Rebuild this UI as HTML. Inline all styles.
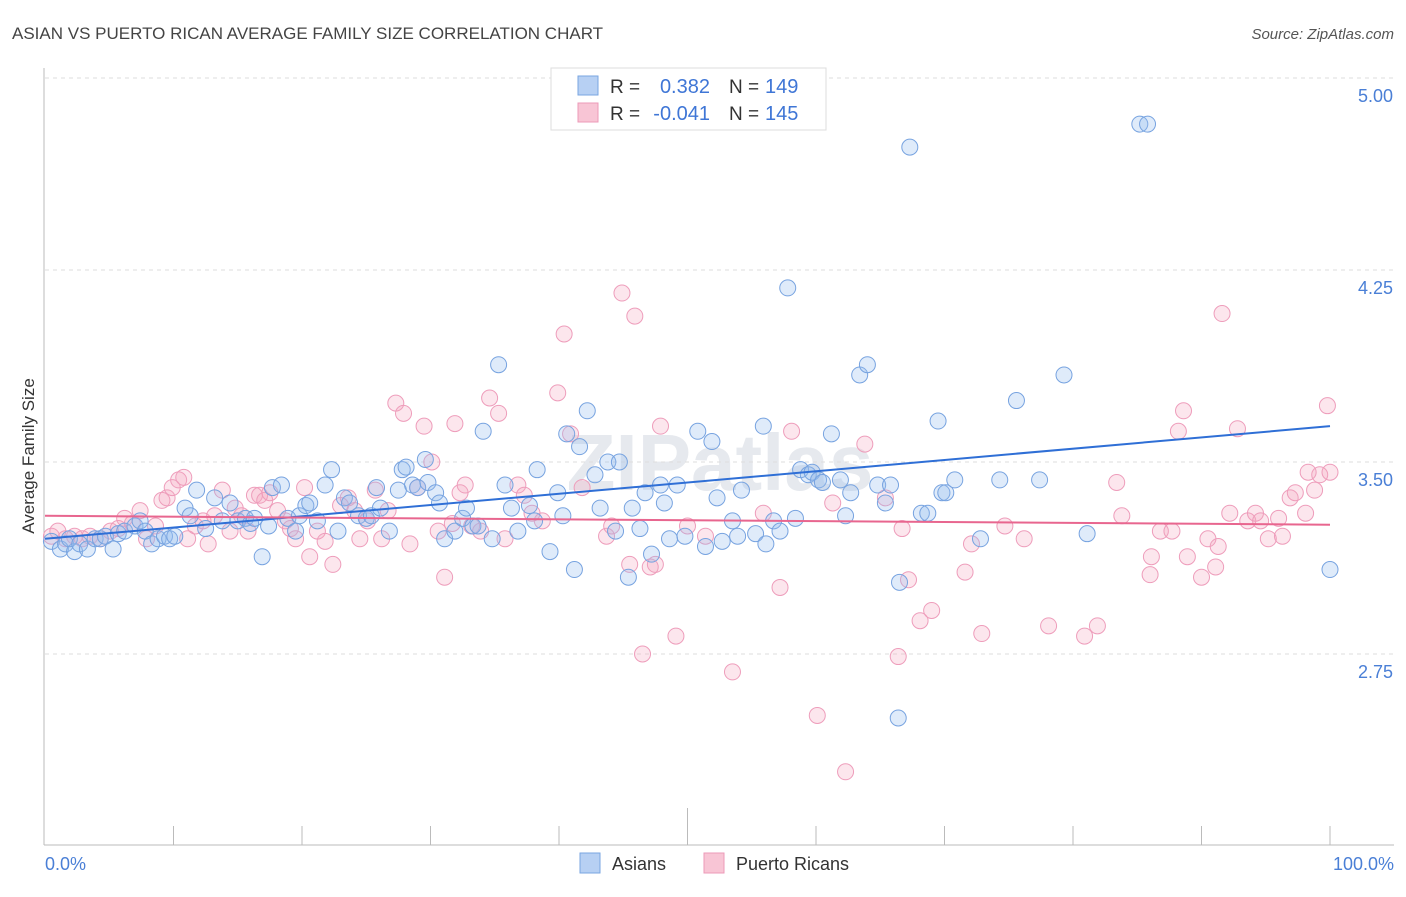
<!DOCTYPE html>
<html><head><meta charset="utf-8"><style>
body{margin:0;background:#fff;font-family:"Liberation Sans",sans-serif;}
svg text{font-family:"Liberation Sans",sans-serif;}
</style></head><body>
<svg id="chart" width="1406" height="892" xmlns="http://www.w3.org/2000/svg">
<text x="12" y="39" font-size="17" fill="#444">ASIAN VS PUERTO RICAN AVERAGE FAMILY SIZE CORRELATION CHART</text>
<text x="1394" y="39" font-size="15" fill="#555" font-style="italic" text-anchor="end">Source: ZipAtlas.com</text>
<text x="720" y="490" font-size="80" fill="#e6e9ee" text-anchor="middle" font-weight="bold">ZIPatlas</text>
<g id="grid"></g>
<g id="axes"></g>
<g id="points"></g>
<g id="trends"></g>
<text transform="translate(34,456) rotate(-90)" font-size="17" fill="#333" text-anchor="middle">Average Family Size</text>
<g>
<rect x="551" y="68" width="275" height="62" fill="#fff" stroke="#ddd"/>
<rect x="578" y="76" width="20" height="19" fill="#b7d0f3" stroke="#7aa6e0"/>
<rect x="578" y="103" width="20" height="19" fill="#f8c5d5" stroke="#ec9ab8"/>
<text x="610" y="93" font-size="19" fill="#333">R =</text>
<text x="710" y="93" font-size="20" fill="#3f76d6" text-anchor="end">0.382</text>
<text x="729" y="93" font-size="19" fill="#333">N =</text>
<text x="765" y="93" font-size="20" fill="#3f76d6">149</text>
<text x="610" y="120" font-size="19" fill="#333">R =</text>
<text x="710" y="120" font-size="20" fill="#3f76d6" text-anchor="end">-0.041</text>
<text x="729" y="120" font-size="19" fill="#333">N =</text>
<text x="765" y="120" font-size="20" fill="#3f76d6">145</text>
</g>
<g>
<rect x="580" y="853" width="20" height="20" fill="#b7d0f3" stroke="#7aa6e0"/>
<text x="612" y="870" font-size="18" fill="#333">Asians</text>
<rect x="704" y="853" width="20" height="20" fill="#f8c5d5" stroke="#ec9ab8"/>
<text x="736" y="870" font-size="18" fill="#333">Puerto Ricans</text>
</g>
</svg>
<script>
const yTicks=[5.00,4.25,3.50,2.75];
const yTickLabels=["5.00","4.25","3.50","2.75"];
const xTicks=[0,10,20,30,40,50,60,70,80,90,100];
const asianX=[0.5,1.2,1.6,2.3,1.9,2.7,3.3,3.9,4.3,4.7,5.3,5.7,6.2,7.0,7.4,7.8,8.3,8.8,9.3,9.7,10.1,10.9,11.3,11.8,12.5,13.2,13.8,14.4,15.0,15.6,16.0,16.3,16.9,17.4,17.7,18.4,18.9,19.5,19.8,20.3,20.6,21.2,21.8,22.3,22.8,23.3,23.7,24.4,25.0,25.4,25.8,26.1,26.8,27.5,27.8,28.1,28.6,29.0,29.6,29.8,30.4,30.7,31.1,31.9,32.5,32.8,33.3,33.7,34.1,34.8,35.3,35.8,36.3,36.8,37.7,38.1,38.3,39.3,39.9,40.3,40.6,41.2,41.6,42.2,42.8,43.2,43.8,44.4,44.7,45.4,45.7,46.3,46.7,47.2,47.9,48.2,48.6,49.2,49.8,50.8,51.4,51.9,52.3,52.7,53.5,53.9,54.2,55.3,55.9,56.1,56.7,57.2,57.8,58.4,58.8,59.4,59.7,60.2,60.5,61.2,61.9,62.3,62.7,63.4,64.0,64.8,65.4,65.8,66.4,66.5,67.3,68.2,68.7,69.5,69.8,70.1,70.8,72.8,74.3,75.6,77.4,79.3,81.1,85.2,85.8,100];
const asianY=[3.19,3.16,3.18,3.15,3.20,3.18,3.16,3.20,3.20,3.21,3.16,3.22,3.23,3.25,3.27,3.23,3.18,3.20,3.21,3.20,3.21,3.32,3.29,3.39,3.24,3.36,3.27,3.34,3.27,3.28,3.26,3.28,3.13,3.25,3.40,3.41,3.28,3.23,3.29,3.33,3.34,3.27,3.41,3.47,3.23,3.36,3.34,3.29,3.28,3.29,3.40,3.32,3.23,3.39,3.47,3.48,3.41,3.40,3.51,3.42,3.38,3.34,3.20,3.23,3.28,3.32,3.25,3.25,3.62,3.20,3.88,3.41,3.32,3.23,3.33,3.27,3.47,3.15,3.38,3.29,3.61,3.08,3.56,3.70,3.45,3.32,3.50,3.23,3.50,3.05,3.32,3.24,3.38,3.14,3.41,3.34,3.20,3.41,3.21,3.62,3.17,3.58,3.36,3.19,3.27,3.21,3.39,3.22,3.64,3.18,3.27,3.23,4.18,3.28,3.47,3.45,3.46,3.43,3.42,3.61,3.43,3.29,3.38,3.84,3.88,3.41,3.34,3.41,2.50,3.03,4.73,3.30,3.30,3.66,3.38,3.38,3.43,3.20,3.43,3.74,3.43,3.84,3.22,4.82,4.82,3.08];
const prX=[0.5,1.0,1.6,2.3,2.9,3.5,4.3,5.1,5.7,6.2,6.8,7.4,7.9,8.6,9.1,9.5,9.9,10.4,10.8,11.1,11.7,12.3,12.7,13.2,13.8,14.4,14.8,15.3,15.8,16.3,16.7,17.1,17.5,18.1,18.7,19.1,19.5,20.2,20.6,21.2,21.8,22.4,23.0,23.6,24.1,24.5,25.1,25.7,26.2,26.7,27.3,27.9,28.4,29.0,29.5,30.1,30.6,31.1,31.7,31.9,32.3,32.7,33.2,33.9,34.6,35.3,35.8,36.8,37.3,37.9,38.7,39.9,40.4,40.9,41.8,43.7,44.1,44.9,45.5,45.9,46.5,47.1,47.5,47.9,49.1,50.0,51.4,53.5,55.9,57.2,58.1,60.1,61.3,62.3,63.8,65.4,66.4,66.7,67.2,68.1,69.0,71.6,72.1,72.9,74.7,76.2,78.1,80.9,81.9,83.4,83.8,86.0,86.1,86.8,87.7,88.2,88.6,88.9,90.0,90.5,91.1,91.3,91.6,92.2,92.8,93.6,94.2,94.6,95.2,96.0,96.3,96.9,97.3,98.1,98.8,99.2,99.8,100,98.3];
const prY=[3.21,3.23,3.20,3.21,3.20,3.21,3.20,3.23,3.24,3.28,3.26,3.31,3.20,3.25,3.35,3.36,3.40,3.43,3.44,3.20,3.25,3.27,3.18,3.29,3.39,3.23,3.32,3.29,3.23,3.37,3.37,3.35,3.38,3.31,3.27,3.24,3.20,3.40,3.13,3.23,3.19,3.10,3.33,3.36,3.31,3.20,3.27,3.39,3.20,3.31,3.73,3.69,3.18,3.40,3.64,3.50,3.23,3.05,3.26,3.65,3.38,3.41,3.25,3.23,3.75,3.69,3.20,3.41,3.37,3.30,3.27,3.77,4.00,3.61,3.40,3.21,3.25,4.16,3.10,4.07,2.75,3.09,3.10,3.64,2.82,3.25,3.21,2.68,3.30,3.01,3.62,2.51,3.34,2.29,3.57,3.36,2.74,3.24,3.04,2.88,2.92,3.07,3.18,2.83,3.25,3.20,2.86,2.82,2.86,3.42,3.29,3.06,3.13,3.23,3.23,3.62,3.70,3.13,3.05,3.20,3.09,3.17,4.08,3.30,3.63,3.27,3.30,3.27,3.20,3.28,3.21,3.36,3.38,3.30,3.39,3.45,3.72,3.46,3.46];
const asianTrend=[3.20,3.64];
const prTrend=[3.29,3.255];

const NS="http://www.w3.org/2000/svg";
function xs(p){return 45+p*12.85;}
function ys(v){return 462-(v-3.5)*256;}
function mk(tag,attrs,parent){const e=document.createElementNS(NS,tag);for(const k in attrs)e.setAttribute(k,attrs[k]);parent.appendChild(e);return e;}
const grid=document.getElementById('grid'),axes=document.getElementById('axes'),pts=document.getElementById('points'),tr=document.getElementById('trends');
mk('line',{x1:45,x2:1394,y1:ys(5.0),y2:ys(5.0),stroke:'#ddd','stroke-dasharray':'4,4'},grid);
yTicks.forEach((v,i)=>{
  const l=mk('line',{x1:45,x2:1394,y1:ys(v),y2:ys(v),stroke:'#ddd','stroke-dasharray':'4,4'},grid);
  
  
  const t=mk('text',{x:1393,y:ys(v)+24,'font-size':18,fill:'#4a7fd6','text-anchor':'end'},grid);
  t.textContent=yTickLabels[i];
  
  
});
mk('line',{x1:44,x2:44,y1:68,y2:845,stroke:'#bbb'},axes);
mk('line',{x1:44,x2:1394,y1:845,y2:845,stroke:'#bbb'},axes);
xTicks.forEach(p=>{
  if(p===0)return;
  const l=mk('line',{x1:xs(p),x2:xs(p),y1:p===50?808:826,y2:845,stroke:'#bbb'},axes);
  
  
});
let t0=mk('text',{x:45,y:870,'font-size':18,fill:'#4a7fd6'},axes);t0.textContent='0.0%';


let t1=mk('text',{x:1394,y:870,'font-size':18,fill:'#4a7fd6','text-anchor':'end'},axes);t1.textContent='100.0%';


prX.forEach((x,i)=>{
  const c=mk('circle',{cx:xs(x),cy:ys(prY[i]),r:8,fill:'rgba(245,165,192,0.28)',stroke:'#ee9dbb','stroke-width':1},pts);
  
  
});
asianX.forEach((x,i)=>{
  const c=mk('circle',{cx:xs(x),cy:ys(asianY[i]),r:8,fill:'rgba(150,190,240,0.3)',stroke:'#77a3e0','stroke-width':1},pts);
  
  
});
const la=mk('line',{x1:xs(0),x2:xs(100),y1:ys(asianTrend[0]),y2:ys(asianTrend[1]),stroke:'#2f6fd6','stroke-width':2},tr);


const lp=mk('line',{x1:xs(0),x2:xs(100),y1:ys(prTrend[0]),y2:ys(prTrend[1]),stroke:'#e8668f','stroke-width':2},tr);


</script>
</body></html>
